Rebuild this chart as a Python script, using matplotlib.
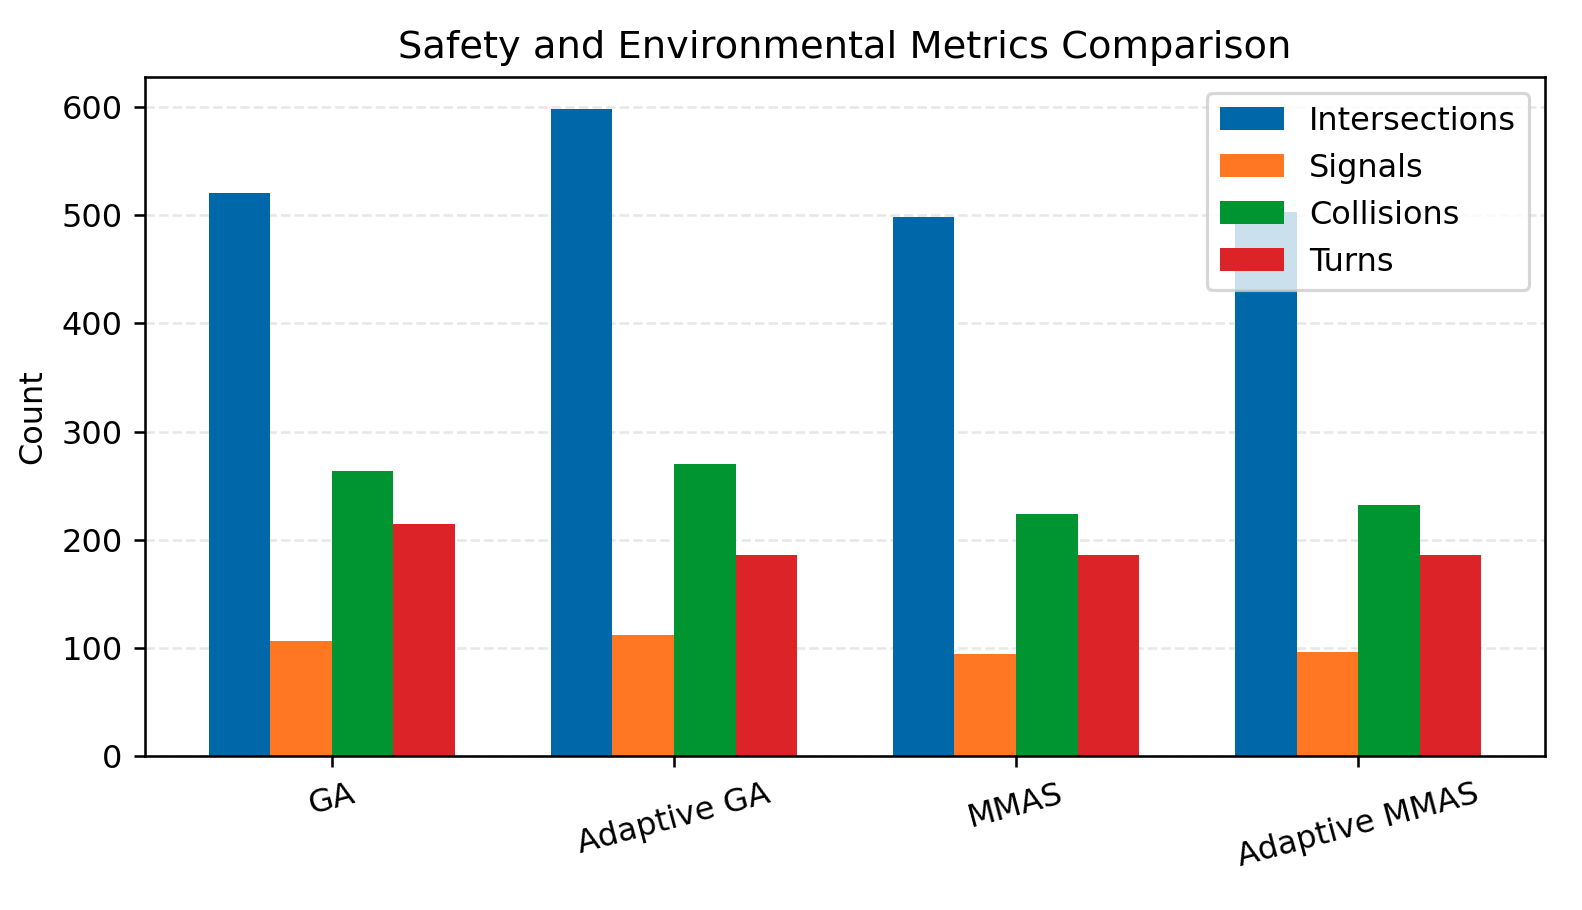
import numpy as np
import matplotlib
matplotlib.use("Agg")
import matplotlib.pyplot as plt

algorithms = ["GA", "Adaptive GA", "MMAS", "Adaptive MMAS"]
intersections = [521, 598, 498, 503]
signals = [106, 112, 94, 96]
collisions = [264, 270, 224, 232]
turns = [215, 186, 186, 186]

series = [("Intersections", intersections, "#0068a8"),
          ("Signals", signals, "#ff7722"),
          ("Collisions", collisions, "#009530"),
          ("Turns", turns, "#dc2428")]

DPI = 230
fig, ax = plt.subplots(figsize=(1582 / DPI, 910 / DPI), dpi=DPI)

x = np.arange(len(algorithms))
w = 0.18
for i, (name, vals, col) in enumerate(series):
    ax.bar(x + (i - 1.5) * w, vals, w, label=name, color=col)

ax.set_xticks(x)
ax.set_xticklabels(algorithms, rotation=15)
ax.set_ylabel("Count")
ax.set_title("Safety and Environmental Metrics Comparison")
ax.set_yticks(np.arange(0, 601, 100))
ax.grid(axis="y", linestyle="--", alpha=0.3)
ax.set_axisbelow(True)
ax.legend(loc="upper right")

plt.subplots_adjust(left=145 / 1582, right=1545 / 1582, top=1 - 77 / 910, bottom=1 - 756 / 910)
fig.savefig("out.png", dpi=DPI)
